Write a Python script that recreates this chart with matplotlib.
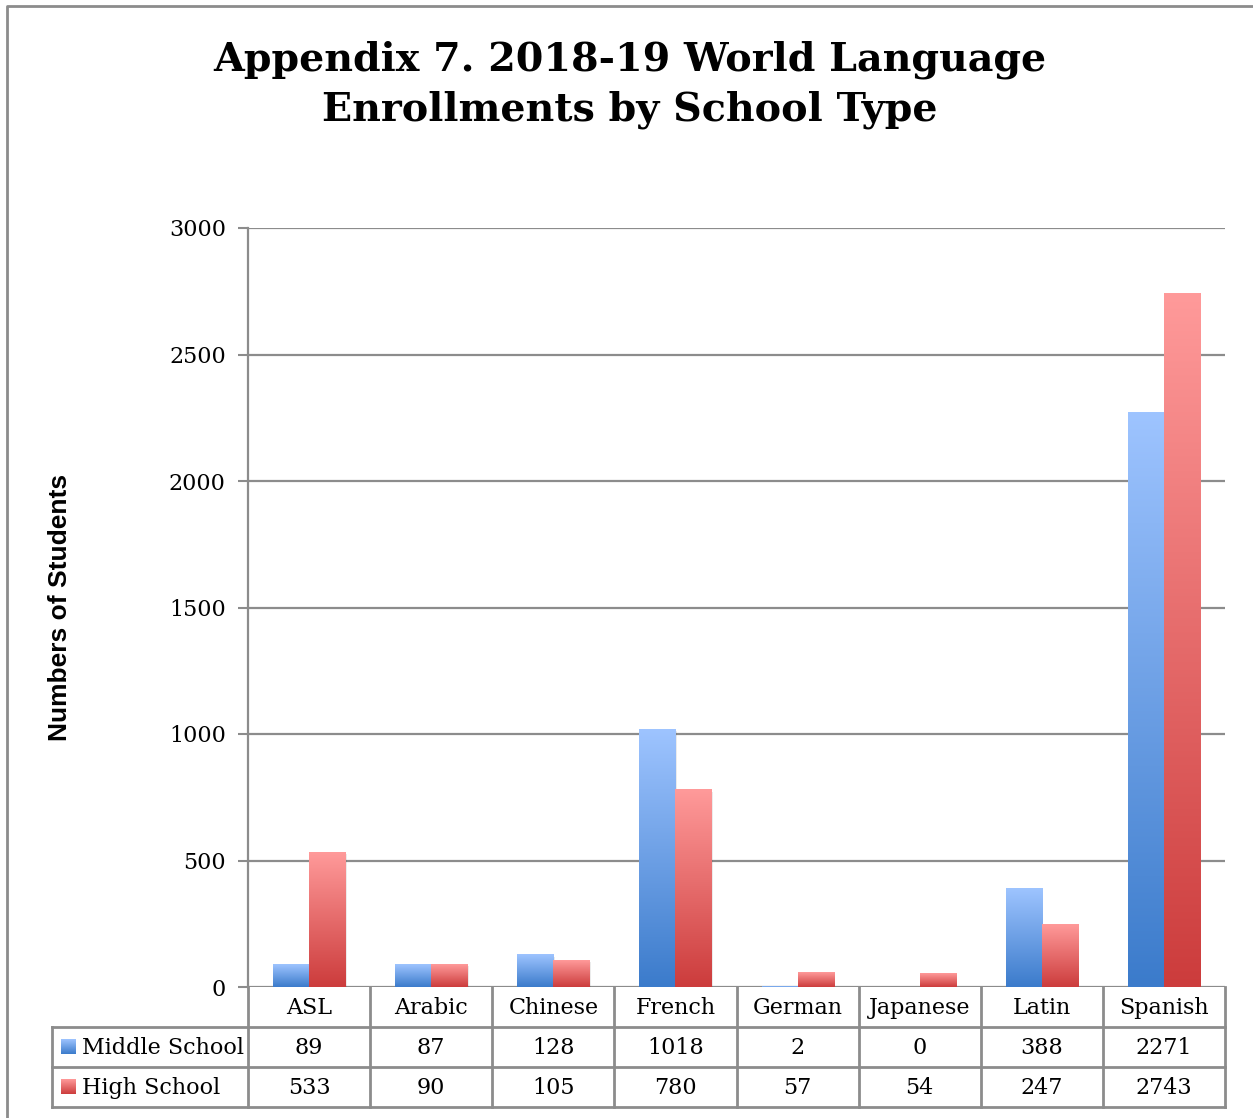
import numpy as np
import matplotlib
matplotlib.use("Agg")
import matplotlib.pyplot as plt
from matplotlib.transforms import blended_transform_factory
from matplotlib.colors import LinearSegmentedColormap

# Data
languages = ["ASL", "Arabic", "Chinese", "French", "German", "Japanese", "Latin", "Spanish"]
middle_school = [89, 87, 128, 1018, 2, 0, 388, 2271]
high_school = [533, 90, 105, 780, 57, 54, 247, 2743]
series_names = ["Middle School", "High School"]
y_ticks = [0, 500, 1000, 1500, 2000, 2500, 3000]

W, H = 1253, 1118
fig = plt.figure(figsize=(W / 100, H / 100), dpi=100)
serif = "DejaVu Serif"
grid_col = "#8c8c8c"

# Overlay axes in pixel coords for frame and table
ov = fig.add_axes([0, 0, 1, 1], zorder=0)
ov.set_xlim(0, W)
ov.set_ylim(H, 0)
ov.axis("off")
ov.plot([7, 7, W + 5], [H + 5, 6, 6], color=grid_col, lw=2)

# Main chart axes
left, right, top, bottom = 248, 1225, 228, 987
ax = fig.add_axes([left / W, 1 - bottom / H, (right - left) / W, (bottom - top) / H], zorder=1)
ax.patch.set_alpha(0)

blue_cm = LinearSegmentedColormap.from_list("b", ["#3b7bcb", "#9ec4ff"])
red_cm = LinearSegmentedColormap.from_list("r", ["#cc3c3c", "#ff9a9a"])
grad = np.linspace(0, 1, 256).reshape(-1, 1)

bw = 0.295
x = np.arange(len(languages))
for vals, off, cm in [(middle_school, -bw / 2, blue_cm), (high_school, bw / 2, red_cm)]:
    bars = ax.bar(x + off, vals, width=bw, color="none", zorder=3)
    for b, v in zip(bars, vals):
        if v <= 0:
            continue
        x0 = b.get_x()
        # soft shadow
        ax.bar(x0 + bw / 2 + 0.012, v, width=bw, bottom=-8, color="#000000", alpha=0.08, zorder=2)
        ax.imshow(grad, cmap=cm, origin="lower", aspect="auto",
                  extent=(x0, x0 + bw, 0, v), zorder=3)
ax.set_xlim(-0.5, len(languages) - 0.5)
ax.set_ylim(0, 3000)

ax.set_yticks(y_ticks)
ax.set_yticklabels([str(t) for t in y_ticks], fontfamily=serif, fontsize=16)
ax.tick_params(axis="y", length=7, width=1.5, color=grid_col, pad=9)
ax.set_xticks([])
ax.grid(axis="y", color=grid_col, lw=1.6, zorder=1)
ax.set_axisbelow(True)
for s in ["top", "right", "bottom"]:
    ax.spines[s].set_visible(False)
ax.spines["left"].set_color(grid_col)
ax.spines["left"].set_linewidth(1.6)

ax.set_ylabel("Numbers of Students", fontfamily="Liberation Sans", fontweight="bold",
              fontsize=19, labelpad=70)

fig.text(630 / W, 1 - 85 / H, "Appendix 7. 2018-19 World Language\nEnrollments by School Type",
         ha="center", va="center", fontfamily=serif, fontweight="bold", fontsize=28.5,
         linespacing=1.38)

# Data table below the axes
tr = blended_transform_factory(ax.transData, ov.transData)
row_y = [987, 1027, 1067, 1107]
bounds = np.arange(len(languages) + 1) - 0.5
lw = 2
for bx in bounds:
    ov.plot([bx, bx], [row_y[0], row_y[-1]], color=grid_col, lw=lw, transform=tr,
            solid_capstyle="projecting")
for ry in row_y[1:]:
    ov.plot([52, right], [ry, ry], color=grid_col, lw=lw, solid_capstyle="projecting")
ov.plot([52, 52], [row_y[1], row_y[-1]], color=grid_col, lw=lw, solid_capstyle="projecting")

for i, lang in enumerate(languages):
    ov.text(i, (row_y[0] + row_y[1]) / 2 + 1, lang, transform=tr, ha="center", va="center",
            fontfamily=serif, fontsize=16)
    ov.text(i, (row_y[1] + row_y[2]) / 2 + 1, str(middle_school[i]), transform=tr,
            ha="center", va="center", fontfamily=serif, fontsize=16)
    ov.text(i, (row_y[2] + row_y[3]) / 2 + 1, str(high_school[i]), transform=tr,
            ha="center", va="center", fontfamily=serif, fontsize=16)

for k, (name, cm) in enumerate(zip(series_names, [blue_cm, red_cm])):
    yc = (row_y[k + 1] + row_y[k + 2]) / 2
    ov.imshow(grad, cmap=cm, origin="lower", aspect="auto",
              extent=(61, 76, yc + 7, yc - 8), zorder=2)
    ov.text(82, yc + 1, name, ha="left", va="center", fontfamily=serif, fontsize=16)
ov.set_xlim(0, W)
ov.set_ylim(H, 0)

fig.savefig("out.png", dpi=100)
